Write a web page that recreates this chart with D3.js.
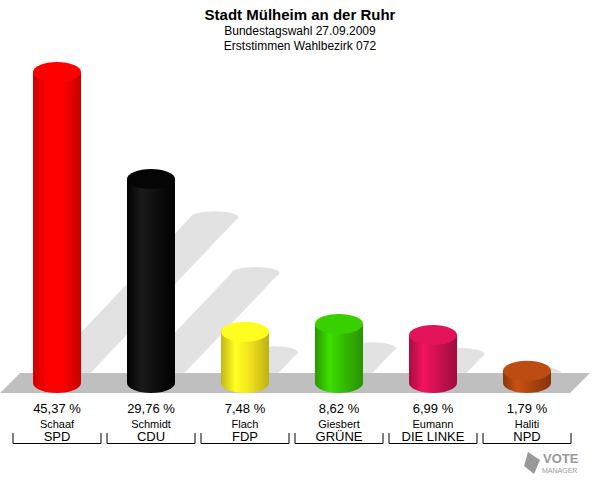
<!DOCTYPE html>
<html><head><meta charset="utf-8">
<script src="https://cdn.jsdelivr.net/npm/d3@7"></script>
<style>body{margin:0;background:#fff}text{font-family:"Liberation Sans",Arial,sans-serif}</style>
</head><body><svg id="chart" width="600" height="480"></svg>
<script>
const names = ['Schaaf','Schmidt','Flach','Giesbert','Eumann','Haliti']
const parties = ['SPD','CDU','FDP','GRÜNE','DIE LINKE','NPD']
const values = [45.37,29.76,7.48,8.62,6.99,1.79]
const colors = ['#ff0000','#000000','#f2e21c','#33bb00','#cc1150','#aa4410']

const svg = d3.select('#chart')
const base = 383
const x = d3.scaleBand().domain(parties).range([10,574]).paddingInner(0)
const y = d3.scaleLinear().domain([0,45.37]).range([0,311])
const rx = 24, ry = 10

svg.append('text').attr('x',300).attr('y',20).attr('text-anchor','middle').attr('font-size',15).attr('font-weight','bold').text('Stadt Mülheim an der Ruhr')
svg.append('text').attr('x',300).attr('y',35).attr('text-anchor','middle').attr('font-size',12).text('Bundestagswahl 27.09.2009')
svg.append('text').attr('x',300).attr('y',50).attr('text-anchor','middle').attr('font-size',12).text('Erststimmen Wahlbezirk 072')

// shadows
parties.forEach((p,i)=>{
  const cx = x(p)+x.bandwidth()/2
  const h = y(values[i])*0.52 + 4
  const dx = h*0.95
  svg.append('path').attr('fill','#e2e2e2')
    .attr('d',`M${cx-rx},${base} L${cx-rx+dx},${base-h} L${cx+rx+dx},${base-h} L${cx+rx},${base} Z`)
  svg.append('ellipse').attr('fill','#e2e2e2').attr('cx',cx+dx).attr('cy',base-h).attr('rx',rx).attr('ry',6)
})
// floor
svg.append('path').attr('fill','#bfbfbf').attr('d','M20,373 L590,373 L570,393 L0,393 Z')

const defs = svg.append('defs')
parties.forEach((p,i)=>{
  const g = defs.append('linearGradient').attr('id','g'+i)
  const c = d3.color(colors[i])
  const stops = i===1 ? [['#000',0],['#1a1a1a',0.3],['#000',1]] :
    [[c.darker(0.6),0],[c.brighter(0.5),0.3],[c,0.6],[c.darker(0.7),1]]
  stops.forEach(s=>g.append('stop').attr('offset',s[1]).attr('stop-color',s[0]))
  const cx = x(p)+x.bandwidth()/2
  const top = base - y(values[i])
  svg.append('path').attr('fill',`url(#g${i})`)
    .attr('d',`M${cx-rx},${top} L${cx-rx},${base} A${rx},${ry} 0 0 0 ${cx+rx},${base} L${cx+rx},${top} Z`)
  svg.append('ellipse').attr('cx',cx).attr('cy',top).attr('rx',rx).attr('ry',ry)
    .attr('fill',i===1?'#050505':c.brighter(0.3))
  svg.append('text').attr('x',cx).attr('y',413).attr('text-anchor','middle').attr('font-size',13).text(d3.format('.2f')(values[i]).replace('.',',')+' %')
  svg.append('text').attr('x',cx).attr('y',428).attr('text-anchor','middle').attr('font-size',11).text(names[i])
  svg.append('text').attr('x',cx).attr('y',441).attr('text-anchor','middle').attr('font-size',13).text(p)
  const x0 = x(p)+3, x1 = x(p)+x.bandwidth()-3
  svg.append('path').attr('fill','none').attr('stroke','#000')
    .attr('d',`M${x0},433 L${x0},443.5 L${x1},443.5 L${x1},433`)
})

// logo
svg.append('text').attr('x',543).attr('y',463).attr('font-size',13).attr('font-weight','bold').attr('fill','#999').text('VOTE')
svg.append('text').attr('x',542).attr('y',473).attr('font-size',7).attr('fill','#999').text('MANAGER')
svg.append('path').attr('fill','#999').attr('d','M528,452 L540,460 L534,474 L524,466 Z')
</script></body></html>
